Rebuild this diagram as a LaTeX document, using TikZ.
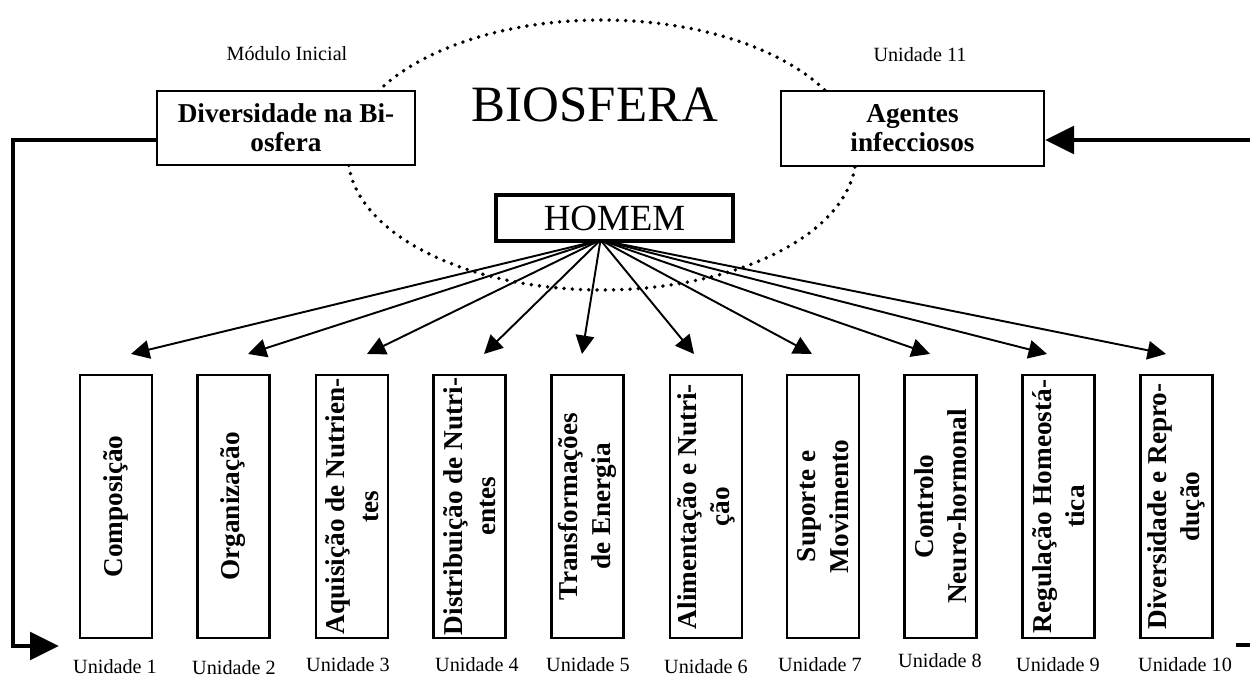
\documentclass[tikz,border=0pt]{standalone}
\usepackage{fontspec}
\setmainfont{Liberation Serif}
\usetikzlibrary{arrows.meta,calc}

\begin{document}
\begin{tikzpicture}[x=.02cm,y=-.02cm,
		caixa/.style={draw,line width=1.2pt,fill=white,align=center,font=\bfseries\fontsize{15.5}{16.5}\selectfont},
		unidade/.style={draw,line width=1.2pt,minimum width=1.44cm,minimum height=5.26cm},
		vtexto/.style={rotate=90,align=center,font=\bfseries\fontsize{15.5}{19}\selectfont},
		rotulo/.style={font=\fontsize{11.5}{13}\selectfont},
		seta/.style={line width=1.1pt,-{Triangle[length=10.5pt,width=10.5pt]}},
		grossa/.style={line width=2.8pt,line join=miter}]
		\useasboundingbox (0,0) rectangle (1250,678);
		\draw[line width=2.2pt,line cap=round,dash pattern=on 0pt off 4.7pt] (602,155) ellipse [x radius=5.08cm,y radius=2.7cm];
		\node[font=\fontsize{29}{34}\selectfont,anchor=base] (bio) at (595,122) {BIOSFERA};
		\node[rotulo] (modulo) at (287,54) {Módulo Inicial};
		\node[rotulo] (un11) at (920,55) {Unidade 11};
		\node[caixa,minimum width=5.16cm,minimum height=1.48cm] (div) at (286,128) {Diversidade na Bi-\\osfera};
		\node[caixa,minimum width=5.26cm,minimum height=1.5cm] (agentes) at (912.5,128.5) {Agentes\\infecciosos};
		\node[draw,line width=2.3pt,minimum width=4.74cm,minimum height=.92cm,font=\fontsize{21}{25}\selectfont] (homem) at (614.5,218) {HOMEM};
		\path ($(homem.south)+(-14,-3)$) coordinate (hub);
		\foreach \i/\x/\dx/\lx/\ly/\t in {
			1/116/15/115/667/Composição,
			2/233.5/14.5/234/668/Organização,
			3/352/15/348/665/Aquisição de Nutrien-\\tes,
			4/469.5/14.5/477/665/Distribuição de Nutri-\\entes,
			5/587.5/-5.5/588/665/Transformações\\de Energia,
			6/706/-12/706/667/Alimentação e Nutri-\\ção,
			7/823/-11/820/665/Suporte e\\Movimento,
			8/940.5/-10.5/940/661/Controlo\\Neuro-hormonal,
			9/1058.5/-11.5/1058/665/Regulação Homeostá-\\tica,
			10/1176.5/-10.5/1185/665/Diversidade e Repro-\\dução}
		{
			\node[unidade] (u\i) at (\x,506.5) {};
			\node[vtexto] (t\i) at (u\i) {\t};
			\node[rotulo] (l\i) at (\lx,\ly) {Unidade \i};
			\path ($(u\i.north)+(\dx,-20)$) coordinate (p\i);
			\draw[seta] (hub) -- (p\i);
		}
		\path
		(13,140) coordinate (c1)
		(13,646) coordinate (c2)
		(59,646) coordinate (c3)
		(1250,140) coordinate (c4)
		(1236,645) coordinate (c5);
		\draw[grossa,-{Triangle[length=16.5pt,width=15.5pt]}] (div.west |- c1) -- (c1) -- (c2) -- (c3);
		\draw[grossa,-{Triangle[length=16.5pt,width=15.5pt]}] (c4) -- (agentes.east |- c4);
		\draw[grossa] (c5) -- (c5 -| c4);
	\end{tikzpicture}
\end{document}
